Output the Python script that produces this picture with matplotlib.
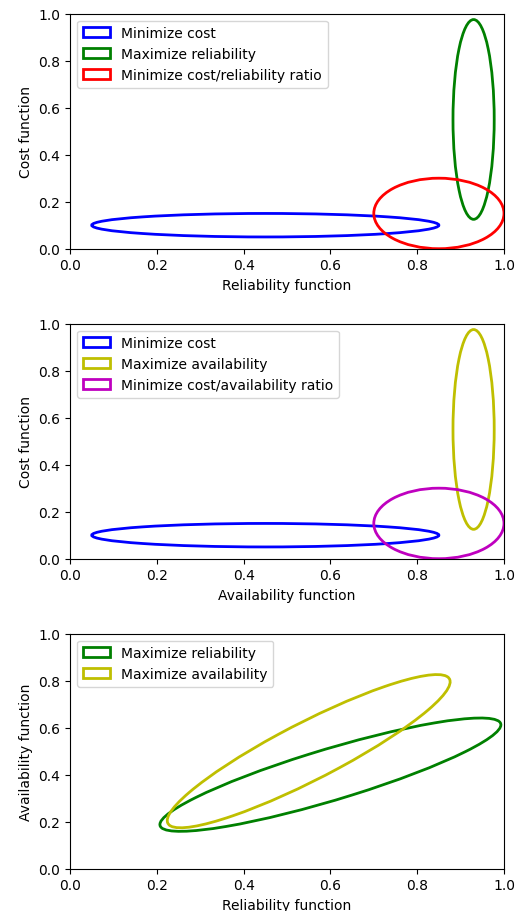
import matplotlib
matplotlib.use('Agg')
import matplotlib.pyplot as plt
from matplotlib.patches import Ellipse

# ellipse regions: (center_x, center_y, width, height, angle)
cost_min = (0.45, 0.10, 0.80, 0.10, 0)
rel_max = (0.93, 0.55, 0.095, 0.85, 0)
cost_rel_ratio = (0.85, 0.15, 0.30, 0.30, 0)

avail_max = (0.93, 0.55, 0.095, 0.85, 0)
cost_avail_ratio = (0.85, 0.15, 0.30, 0.30, 0)

rel_max_ra = (0.60, 0.40, 0.90, 0.20, 30)
avail_max_ra = (0.55, 0.50, 0.90, 0.20, 45)

panels = [
    ('Reliability function', 'Cost function',
     [(cost_min, 'b', 'Minimize cost'),
      (rel_max, 'g', 'Maximize reliability'),
      (cost_rel_ratio, 'r', 'Minimize cost/reliability ratio')]),
    ('Availability function', 'Cost function',
     [(cost_min, 'b', 'Minimize cost'),
      (avail_max, 'y', 'Maximize availability'),
      (cost_avail_ratio, 'm', 'Minimize cost/availability ratio')]),
    ('Reliability function', 'Availability function',
     [(rel_max_ra, 'g', 'Maximize reliability'),
      (avail_max_ra, 'y', 'Maximize availability')]),
]

fig = plt.figure(figsize=(5.16, 9.12), dpi=100)
boxes = [0.7262, 0.3863, 0.0464]
for (xlab, ylab, shapes), b in zip(panels, boxes):
    ax = fig.add_axes([0.1357, b, 0.841, 0.2577])
    for (cx, cy, w, h, ang), col, lab in shapes:
        e = Ellipse((cx, cy), w, h, angle=ang, fill=False, edgecolor=col,
                    linewidth=2, label=lab)
        ax.add_patch(e)
    ax.set_xlim(0, 1)
    ax.set_ylim(0, 1)
    ax.set_xlabel(xlab)
    ax.set_ylabel(ylab)
    ax.legend(loc='upper left')

fig.savefig('out.png', dpi=100)
